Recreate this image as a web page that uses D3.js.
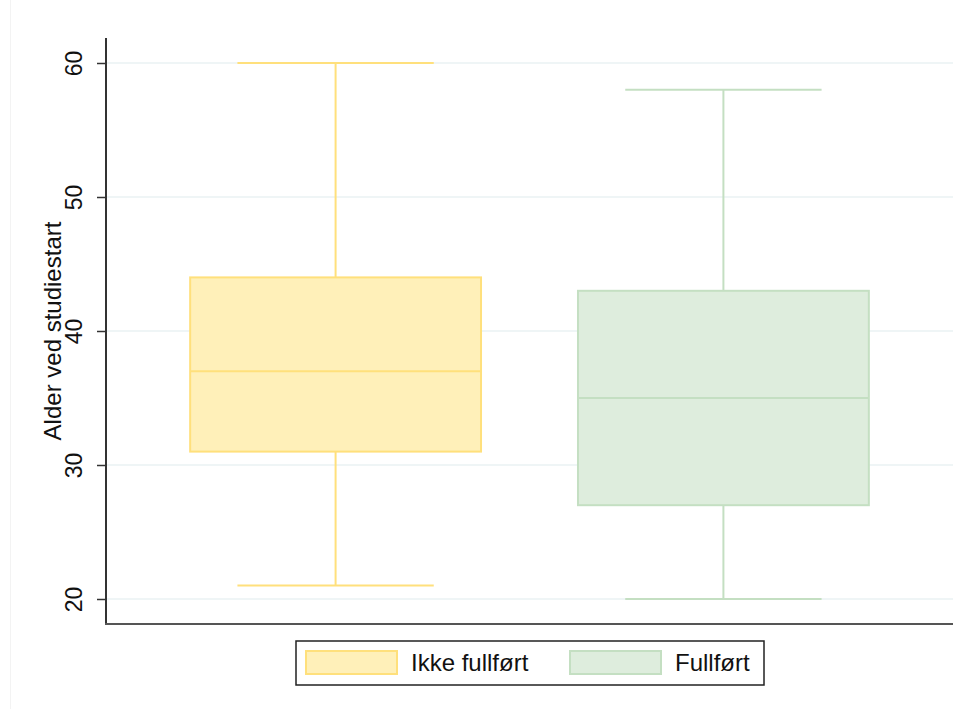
<!DOCTYPE html>
<html>
<head>
<meta charset="utf-8">
<script src="https://cdn.jsdelivr.net/npm/d3@7"></script>
<style>
  body { margin: 0; background: #fff; }
  svg text { font-family: "Liberation Sans", Arial, sans-serif; fill: #111; }
</style>
</head>
<body>
<svg id="chart" width="966" height="709"></svg>
<script>
// groups and their box stats (min, q1, median, q3, max)
var groups = ['Ikke fullført', 'Fullført'];
var whiskerLow = [21, 20];
var q1 = [31, 27];
var median = [37, 35];
var q3 = [44, 43];
var whiskerHigh = [60, 58];
var yTicks = [20, 30, 40, 50, 60];

var fills = ['#fff0b9', '#deeddd'];
var strokes = ['#ffe07c', '#c4dfc2'];

var svg = d3.select('#chart');
var pl = 106, pr = 953, pt = 38, pb = 624;

var y = d3.scaleLinear().domain([20, 60]).range([599, 63]);
var x = d3.scaleBand().domain(groups).range([pl, pr])
   .paddingInner(0.25).paddingOuter(0.217);

// faint frame line on the far left
svg.append('line').attr('x1', 10.5).attr('x2', 10.5).attr('y1', 0).attr('y2', 709)
   .attr('stroke', '#f3f3f3').attr('stroke-width', 1);

// gridlines
svg.append('g').selectAll('line').data(yTicks).enter().append('line')
   .attr('x1', pl).attr('x2', pr)
   .attr('y1', function(d){ return y(d); }).attr('y2', function(d){ return y(d); })
   .attr('stroke', '#eaf2f3').attr('stroke-width', 1.5);

// boxes
var box = svg.append('g').selectAll('g').data(groups).enter().append('g');
box.each(function(g, i){
   var s = d3.select(this);
   var bx = x(g), bw = x.bandwidth(), cx = bx + bw / 2, cw = bw * 0.675;
   // whiskers
   s.append('line').attr('x1', cx).attr('x2', cx)
      .attr('y1', y(whiskerHigh[i])).attr('y2', y(q3[i]))
      .attr('stroke', strokes[i]).attr('stroke-width', 2);
   s.append('line').attr('x1', cx).attr('x2', cx)
      .attr('y1', y(q1[i])).attr('y2', y(whiskerLow[i]))
      .attr('stroke', strokes[i]).attr('stroke-width', 2);
   s.append('line').attr('x1', cx - cw / 2).attr('x2', cx + cw / 2)
      .attr('y1', y(whiskerHigh[i])).attr('y2', y(whiskerHigh[i]))
      .attr('stroke', strokes[i]).attr('stroke-width', 2);
   s.append('line').attr('x1', cx - cw / 2).attr('x2', cx + cw / 2)
      .attr('y1', y(whiskerLow[i])).attr('y2', y(whiskerLow[i]))
      .attr('stroke', strokes[i]).attr('stroke-width', 2);
   // box
   s.append('rect').attr('x', bx).attr('width', bw)
      .attr('y', y(q3[i])).attr('height', y(q1[i]) - y(q3[i]))
      .attr('fill', fills[i]).attr('stroke', strokes[i]).attr('stroke-width', 2);
   s.append('line').attr('x1', bx).attr('x2', bx + bw)
      .attr('y1', y(median[i])).attr('y2', y(median[i]))
      .attr('stroke', strokes[i]).attr('stroke-width', 2);
});

// y axis
var yAxis = svg.append('g').attr('transform', 'translate(' + pl + ',0)')
   .call(d3.axisLeft(y).tickValues(yTicks).tickSize(9).tickPadding(0));
yAxis.select('.domain').remove();
yAxis.selectAll('.tick line').attr('stroke', '#333').attr('stroke-width', 1.5);
yAxis.selectAll('.tick text').attr('font-size', 23).attr('fill', '#111')
   .attr('transform', 'translate(-32,0) rotate(-90)')
   .attr('x', 0).attr('dy', '0.35em').attr('text-anchor', 'middle');

// axis lines
svg.append('line').attr('x1', pl).attr('x2', pl).attr('y1', pt).attr('y2', pb + 1)
   .attr('stroke', '#333').attr('stroke-width', 2);
svg.append('line').attr('x1', pl - 1).attr('x2', pr).attr('y1', pb).attr('y2', pb)
   .attr('stroke', '#555').attr('stroke-width', 2);

// y title
svg.append('text').attr('transform', 'translate(61,' + ((pt + pb) / 2) + ') rotate(-90)')
   .attr('text-anchor', 'middle').attr('font-size', 24).text('Alder ved studiestart');

// legend
var lg = svg.append('g');
lg.append('rect').attr('x', 296).attr('y', 641).attr('width', 468).attr('height', 44)
   .attr('fill', '#fff').attr('stroke', '#222').attr('stroke-width', 1.5);
var lx = [306, 570];
groups.forEach(function(g, i){
   lg.append('rect').attr('x', lx[i]).attr('y', 651).attr('width', 91).attr('height', 23)
      .attr('fill', fills[i]).attr('stroke', strokes[i]).attr('stroke-width', 2);
   lg.append('text').attr('x', lx[i] + 105).attr('y', 671).attr('font-size', 24).text(g);
});
</script>
</body>
</html>
